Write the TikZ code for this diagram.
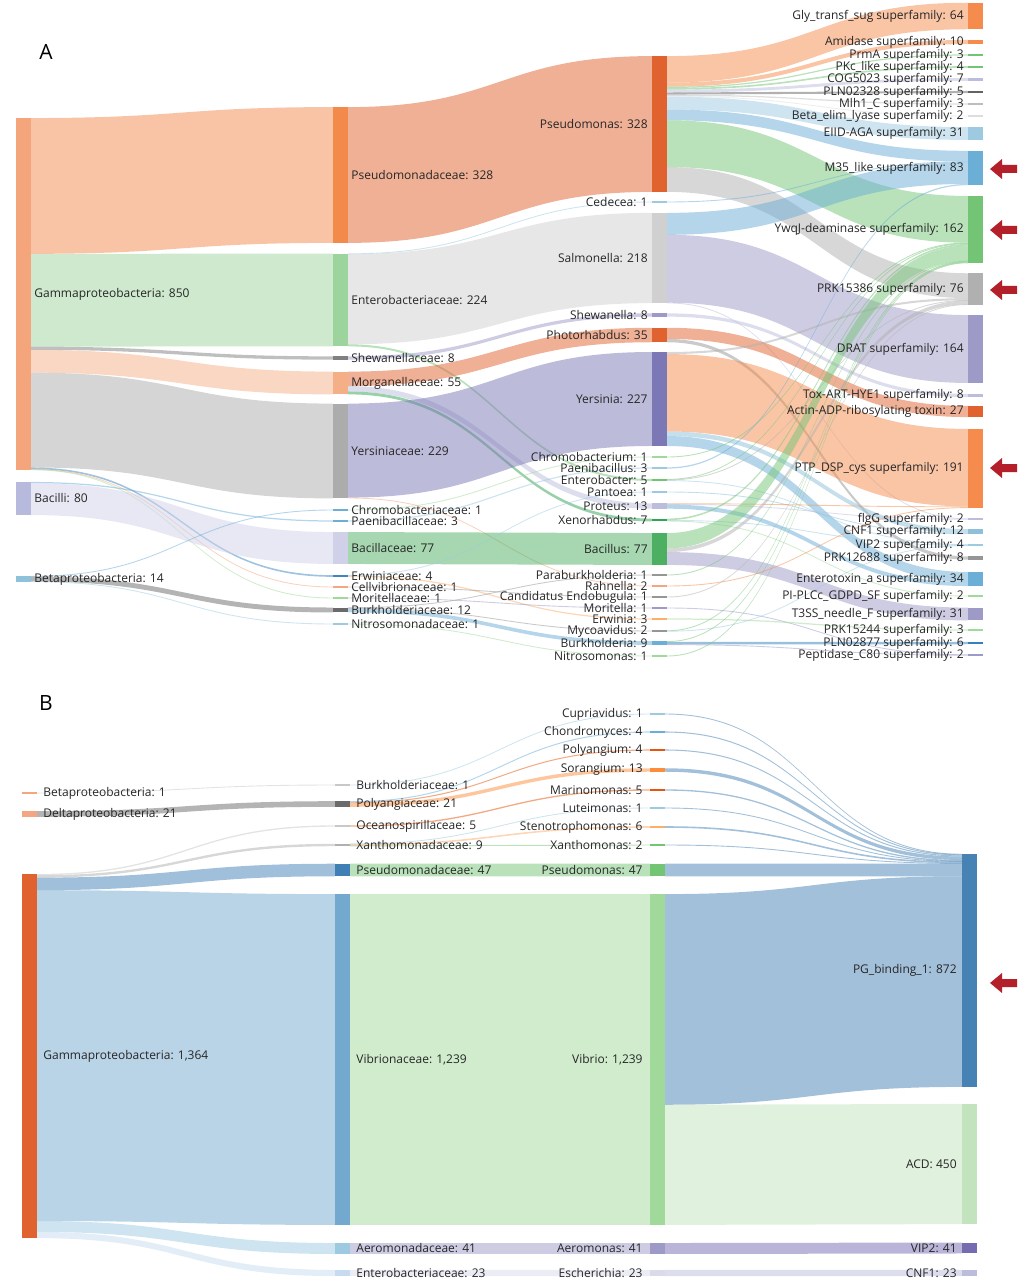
\documentclass[tikz,border=0pt]{standalone}
\usepackage{fontspec}
\newfontfamily\skfont{Open Sans}
\pgfdeclarelayer{bg}
\pgfsetlayers{bg,main}

% colours
\definecolor{txt}{HTML}{262626}
\definecolor{redarr}{HTML}{B3202A}
\definecolor{cGammaA}{HTML}{F4A57C}
\definecolor{cBacilliA}{HTML}{B8BADD}
\definecolor{cBetaA}{HTML}{8DC2DA}
\definecolor{cPsdcA}{HTML}{F28A4C}
\definecolor{cEntcA}{HTML}{9DD49D}
\definecolor{cShwcA}{HTML}{808080}
\definecolor{cMorcA}{HTML}{F5AF86}
\definecolor{cYercA}{HTML}{ACACAC}
\definecolor{cBlueL}{HTML}{9ECAE1}
\definecolor{cBlueM}{HTML}{8EC0DA}
\definecolor{cBlue}{HTML}{6BAED6}
\definecolor{cBlueD}{HTML}{3F86C0}
\definecolor{cBlueS}{HTML}{3182BD}
\definecolor{cBlueV}{HTML}{74A9CF}
\definecolor{cBlueE}{HTML}{C6DBEF}
\definecolor{cSteel}{HTML}{4682B4}
\definecolor{cSteelD}{HTML}{3F7FB5}
\definecolor{cLavL}{HTML}{D0D1E8}
\definecolor{cLav}{HTML}{9E9AC8}
\definecolor{cLavP}{HTML}{BCBDDC}
\definecolor{cLavE}{HTML}{DADAEB}
\definecolor{cPurple}{HTML}{7B78B5}
\definecolor{cVIP}{HTML}{756BB1}
\definecolor{cOrgL}{HTML}{F4A582}
\definecolor{cOrg}{HTML}{F58B4C}
\definecolor{cOrgP}{HTML}{FDAE6B}
\definecolor{cOrgS}{HTML}{FD8D3C}
\definecolor{cRed}{HTML}{E0622E}
\definecolor{cRedO}{HTML}{E6550D}
\definecolor{cGrnL}{HTML}{A1D99B}
\definecolor{cGrn}{HTML}{74C476}
\definecolor{cGrnD}{HTML}{31A354}
\definecolor{cBac}{HTML}{4DAF62}
\definecolor{cACD}{HTML}{C2E3BD}
\definecolor{cSilver}{HTML}{D0D0D0}
\definecolor{cGrayW}{HTML}{DDDDDD}
\definecolor{cGrayL}{HTML}{C8C8C8}
\definecolor{cGrayS}{HTML}{BDBDBD}
\definecolor{cGrayM}{HTML}{B0B0B0}
\definecolor{cGray}{HTML}{969696}
\definecolor{cGrayD}{HTML}{6A6A6A}
\definecolor{cGrayK}{HTML}{636363}

\tikzset{
  lab/.style={font=\skfont\fontsize{6}{7}\selectfont, text=txt, inner sep=0pt},
  panel/.style={font=\skfont\fontsize{10.5}{12}\selectfont, text=black, inner sep=0pt},
  redarrow/.style={fill=redarr}
}

\def\sfac{0.414}
\def\lgap{4}
\def\rgap{18}

% bar of a sankey column: name, x left, y centre, value, colour, label, side
\newcommand{\sbar}[7]{%
  \pgfmathsetmacro\Bh{#4*\sfac}%
  \pgfmathsetmacro\Bt{#3-\Bh/2}%
  \pgfmathsetmacro\Bd{max(\Bh,1.2)/2}%
  \expandafter\xdef\csname bx#1\endcsname{#2}%
  \expandafter\xdef\csname bo#1\endcsname{\Bt}%
  \expandafter\xdef\csname bi#1\endcsname{\Bt}%
  \expandafter\xdef\csname bc#1\endcsname{#5}%
  \fill[fill=#5] (#2,#3-\Bd) rectangle (#2+15,#3+\Bd);
  \if r#7\node[lab, anchor=west] (#1) at (#2+\rgap,#3) {#6};
  \else\node[lab, anchor=east] (#1) at (#2-\lgap,#3) {#6};\fi}

% band between two bars: source, target, value
\newcommand{\flow}[3]{%
  \expandafter\let\expandafter\Fxa\csname bx#1\endcsname
  \expandafter\let\expandafter\Fxb\csname bx#2\endcsname
  \expandafter\let\expandafter\Fya\csname bo#1\endcsname
  \expandafter\let\expandafter\Fyb\csname bi#2\endcsname
  \expandafter\let\expandafter\Fcol\csname bc#2\endcsname
  \pgfmathsetmacro\Fh{#3*\sfac}%
  \pgfmathsetmacro\Fyaa{\Fya+\Fh}%
  \pgfmathsetmacro\Fybb{\Fyb+\Fh}%
  \expandafter\xdef\csname bo#1\endcsname{\Fyaa}%
  \expandafter\xdef\csname bi#2\endcsname{\Fybb}%
  \pgfmathsetmacro\Fd{max(\Fh,0.9)/2}%
  \pgfmathsetmacro\Fca{(\Fya+\Fyaa)/2}%
  \pgfmathsetmacro\Fcb{(\Fyb+\Fybb)/2}%
  \pgfmathsetmacro\Fxs{\Fxa+15}%
  \pgfmathsetmacro\Fxm{(\Fxs+\Fxb)/2}%
  \begin{pgfonlayer}{bg}
  \fill[fill=\Fcol, opacity=.5] (\Fxs,\Fca-\Fd) .. controls (\Fxm,\Fca-\Fd) and (\Fxm,\Fcb-\Fd) .. (\Fxb,\Fcb-\Fd)
    -- (\Fxb,\Fcb+\Fd) .. controls (\Fxm,\Fcb+\Fd) and (\Fxm,\Fca+\Fd) .. (\Fxs,\Fca+\Fd) -- cycle;
  \end{pgfonlayer}}

\newcommand{\pointer}[1]{\fill[redarrow] (990,#1) -- ++(12,-10) -- ++(0,6) -- ++(15,0) -- ++(0,8) -- ++(-15,0) -- ++(0,6) -- cycle;}

\begin{document}
\begin{tikzpicture}[x=0.5pt, y=-0.5pt]
\useasboundingbox (0,0) rectangle (1027,1283);

%% panel A
\node[panel] (panelA) at (46,52) {A};
\sbar{aGamma}{16}{294}{850}{cGammaA}{Gammaproteobacteria: 850}{r}
\sbar{aBacilli}{16}{498.5}{80}{cBacilliA}{Bacilli: 80}{r}
\sbar{aBeta}{16}{579}{14}{cBetaA}{Betaproteobacteria: 14}{r}

\sbar{aPsdc}{333}{175}{328}{cPsdcA}{Pseudomonadaceae: 328}{r}
\sbar{aEntc}{333}{300}{224}{cEntcA}{Enterobacteriaceae: 224}{r}
\sbar{aShwc}{333}{358}{8}{cShwcA}{Shewanellaceae: 8}{r}
\sbar{aMorc}{333}{383}{55}{cMorcA}{Morganellaceae: 55}{r}
\sbar{aYerc}{333}{451}{229}{cYercA}{Yersiniaceae: 229}{r}
\sbar{aChrc}{333}{510}{1}{cBlue}{Chromobacteriaceae: 1}{r}
\sbar{aPaec}{333}{521}{3}{cBlue}{Paenibacillaceae: 3}{r}
\sbar{aBacc}{333}{548}{77}{cLavL}{Bacillaceae: 77}{r}
\sbar{aErwc}{333}{576}{4}{cBlueD}{Erwiniaceae: 4}{r}
\sbar{aCelc}{333}{587}{1}{cOrgL}{Cellvibrionaceae: 1}{r}
\sbar{aMoric}{333}{598}{1}{cGrnL}{Moritellaceae: 1}{r}
\sbar{aBurc}{333}{610}{12}{cGrayD}{Burkholderiaceae: 12}{r}
\sbar{aNitc}{333}{624}{1}{cBlueL}{Nitrosomonadaceae: 1}{r}

\sbar{aPsd}{652}{124}{328}{cRed}{Pseudomonas: 328}{l}
\sbar{aCed}{652}{202}{1}{cBlueL}{Cedecea: 1}{l}
\sbar{aSal}{652}{258}{218}{cSilver}{Salmonella: 218}{l}
\sbar{aShw}{652}{315}{8}{cLav}{Shewanella: 8}{l}
\sbar{aPho}{652}{335}{35}{cRed}{Photorhabdus: 35}{l}
\sbar{aYer}{652}{399}{227}{cPurple}{Yersinia: 227}{l}
\sbar{aChr}{652}{457}{1}{cGrnL}{Chromobacterium: 1}{l}
\sbar{aPae}{652}{468}{3}{cBlueL}{Paenibacillus: 3}{l}
\sbar{aEnt}{652}{480}{5}{cGrn}{Enterobacter: 5}{l}
\sbar{aPan}{652}{492}{1}{cBlueL}{Pantoea: 1}{l}
\sbar{aPro}{652}{506}{13}{cLavP}{Proteus: 13}{l}
\sbar{aXen}{652}{520}{7}{cGrnD}{Xenorhabdus: 7}{l}
\sbar{aBac}{652}{549}{77}{cBac}{Bacillus: 77}{l}
\sbar{aPbu}{652}{575}{1}{cGray}{Paraburkholderia: 1}{l}
\sbar{aRah}{652}{586}{2}{cOrgL}{Rahnella: 2}{l}
\sbar{aCan}{652}{597}{1}{cGray}{Candidatus Endobugula: 1}{l}
\sbar{aMor}{652}{608}{1}{cLav}{Moritella: 1}{l}
\sbar{aErw}{652}{619}{3}{cOrgP}{Erwinia: 3}{l}
\sbar{aMyc}{652}{631}{2}{cGray}{Mycoavidus: 2}{l}
\sbar{aBur}{652}{643}{9}{cBlue}{Burkholderia: 9}{l}
\sbar{aNit}{652}{656}{1}{cGrnL}{Nitrosomonas: 1}{l}

\sbar{aGly}{968}{16}{64}{cOrg}{Gly\_transf\_sug superfamily: 64}{l}
\sbar{aAmi}{968}{42}{10}{cOrg}{Amidase superfamily: 10}{l}
\sbar{aPrm}{968}{55}{3}{cGrn}{PrmA superfamily: 3}{l}
\sbar{aPkc}{968}{67}{4}{cGrn}{PKc\_like superfamily: 4}{l}
\sbar{aCog}{968}{79.5}{7}{cLavP}{COG5023 superfamily: 7}{l}
\sbar{aPln}{968}{92}{5}{cGrayK}{PLN02328 superfamily: 5}{l}
\sbar{aMlh}{968}{104}{3}{cGrayS}{Mlh1\_C superfamily: 3}{l}
\sbar{aBel}{968}{116}{2}{cGrayW}{Beta\_elim\_lyase superfamily: 2}{l}
\sbar{aEii}{968}{133.5}{31}{cBlueL}{EIID-AGA superfamily: 31}{l}
\sbar{aM35}{968}{168}{83}{cBlue}{M35\_like superfamily: 83}{l}
\sbar{aYwq}{968}{229.5}{162}{cGrn}{YwqJ-deaminase superfamily: 162}{l}
\sbar{aPrk}{968}{289}{76}{cGrayM}{PRK15386 superfamily: 76}{l}
\sbar{aDra}{968}{349}{164}{cLav}{DRAT superfamily: 164}{l}
\sbar{aTox}{968}{395.5}{8}{cLavP}{Tox-ART-HYE1 superfamily: 8}{l}
\sbar{aAct}{968}{411.5}{27}{cRed}{Actin-ADP-ribosylating toxin: 27}{l}
\sbar{aPtp}{968}{468.5}{191}{cOrg}{PTP\_DSP\_cys superfamily: 191}{l}
\sbar{aFlg}{968}{519}{2}{cLavP}{flgG superfamily: 2}{l}
\sbar{aCnf}{968}{531.5}{12}{cBlueM}{CNF1 superfamily: 12}{l}
\sbar{aVip}{968}{545}{4}{cBlueL}{VIP2 superfamily: 4}{l}
\sbar{aP12}{968}{558}{8}{cGray}{PRK12688 superfamily: 8}{l}
\sbar{aEtx}{968}{579}{34}{cBlue}{Enterotoxin\_a superfamily: 34}{l}
\sbar{aPip}{968}{596}{2}{cGrnL}{PI-PLCc\_GDPD\_SF superfamily: 2}{l}
\sbar{aT3s}{968}{614}{31}{cLav}{T3SS\_needle\_F superfamily: 31}{l}
\sbar{aP15}{968}{630}{3}{cGrnL}{PRK15244 superfamily: 3}{l}
\sbar{aP28}{968}{643}{6}{cBlueS}{PLN02877 superfamily: 6}{l}
\sbar{aPep}{968}{655}{2}{cLav}{Peptidase\_C80 superfamily: 2}{l}

% class -> family
\flow{aGamma}{aPsdc}{328}
\flow{aGamma}{aEntc}{224}
\flow{aGamma}{aShwc}{8}
\flow{aGamma}{aMorc}{55}
\flow{aGamma}{aYerc}{229}
\flow{aGamma}{aErwc}{4}
\flow{aGamma}{aCelc}{1}
\flow{aGamma}{aMoric}{1}
\flow{aBacilli}{aPaec}{3}
\flow{aBacilli}{aBacc}{77}
\flow{aBeta}{aChrc}{1}
\flow{aBeta}{aBurc}{12}
\flow{aBeta}{aNitc}{1}
% family -> genus
\flow{aPsdc}{aPsd}{328}
\flow{aEntc}{aCed}{1}
\flow{aEntc}{aSal}{218}
\flow{aEntc}{aEnt}{5}
\flow{aShwc}{aShw}{8}
\flow{aMorc}{aPho}{35}
\flow{aMorc}{aPro}{13}
\flow{aMorc}{aXen}{7}
\flow{aYerc}{aYer}{227}
\flow{aYerc}{aRah}{2}
\flow{aChrc}{aChr}{1}
\flow{aPaec}{aPae}{3}
\flow{aBacc}{aBac}{77}
\flow{aErwc}{aPan}{1}
\flow{aErwc}{aErw}{3}
\flow{aCelc}{aCan}{1}
\flow{aMoric}{aMor}{1}
\flow{aBurc}{aPbu}{1}
\flow{aBurc}{aMyc}{2}
\flow{aBurc}{aBur}{9}
\flow{aNitc}{aNit}{1}
% genus -> superfamily
\flow{aPsd}{aGly}{64}
\flow{aPsd}{aAmi}{10}
\flow{aPsd}{aPrm}{3}
\flow{aPsd}{aPkc}{4}
\flow{aPsd}{aCog}{7}
\flow{aPsd}{aPln}{5}
\flow{aPsd}{aMlh}{3}
\flow{aPsd}{aBel}{2}
\flow{aPsd}{aEii}{31}
\flow{aPsd}{aM35}{26}
\flow{aPsd}{aYwq}{113}
\flow{aPsd}{aPrk}{60}
\flow{aCed}{aM35}{1}
\flow{aSal}{aM35}{53}
\flow{aSal}{aDra}{164}
\flow{aSal}{aFlg}{1}
\flow{aShw}{aTox}{8}
\flow{aPho}{aAct}{27}
\flow{aPho}{aP12}{8}
\flow{aYer}{aPrk}{5}
\flow{aYer}{aPtp}{187}
\flow{aYer}{aCnf}{11}
\flow{aYer}{aEtx}{24}
\flow{aChr}{aYwq}{1}
\flow{aPae}{aM35}{3}
\flow{aEnt}{aYwq}{2}
\flow{aEnt}{aPrk}{1}
\flow{aEnt}{aVip}{2}
\flow{aPan}{aCnf}{1}
\flow{aPro}{aPtp}{2}
\flow{aPro}{aFlg}{1}
\flow{aPro}{aEtx}{10}
\flow{aXen}{aYwq}{4}
\flow{aXen}{aVip}{1}
\flow{aXen}{aPip}{2}
\flow{aBac}{aYwq}{37}
\flow{aBac}{aPrk}{9}
\flow{aBac}{aT3s}{31}
\flow{aPbu}{aYwq}{1}
\flow{aRah}{aPtp}{2}
\flow{aCan}{aPrk}{1}
\flow{aMor}{aPep}{1}
\flow{aErw}{aP15}{3}
\flow{aMyc}{aYwq}{1}
\flow{aMyc}{aVip}{1}
\flow{aBur}{aYwq}{2}
\flow{aBur}{aP28}{6}
\flow{aBur}{aPep}{1}
\flow{aNit}{aYwq}{1}

\pointer{169}
\pointer{230}
\pointer{290}
\pointer{468}

%% panel B
\def\sfac{0.267}
\def\lgap{7}
\def\rgap{21}
\node[panel] (panelB) at (46,703) {B};
\sbar{bBeta}{22}{793}{1}{cOrgL}{Betaproteobacteria: 1}{r}
\sbar{bDelta}{22}{814}{21}{cOrgL}{Deltaproteobacteria: 21}{r}
\sbar{bGamma}{22}{1056}{1364}{cRed}{Gammaproteobacteria: 1,364}{r}

\sbar{bBurc}{335}{785}{1}{cGrayL}{Burkholderiaceae: 1}{r}
\sbar{bPolc}{335}{804}{21}{cGrayD}{Polyangiaceae: 21}{r}
\sbar{bOcec}{335}{826}{5}{cGrayL}{Oceanospirillaceae: 5}{r}
\sbar{bXanc}{335}{845}{9}{cGrayM}{Xanthomonadaceae: 9}{r}
\sbar{bPsdc}{335}{870}{47}{cSteelD}{Pseudomonadaceae: 47}{r}
\sbar{bVibc}{335}{1059.5}{1239}{cBlueV}{Vibrionaceae: 1,239}{r}
\sbar{bAerc}{335}{1248.5}{41}{cBlueL}{Aeromonadaceae: 41}{r}
\sbar{bEntc}{335}{1273}{23}{cBlueE}{Enterobacteriaceae: 23}{r}

\sbar{bCup}{650}{714}{1}{cBlueL}{Cupriavidus: 1}{l}
\sbar{bCho}{650}{732}{4}{cBlue}{Chondromyces: 4}{l}
\sbar{bPol}{650}{750}{4}{cRedO}{Polyangium: 4}{l}
\sbar{bSor}{650}{770}{13}{cOrgS}{Sorangium: 13}{l}
\sbar{bMar}{650}{790}{5}{cRedO}{Marinomonas: 5}{l}
\sbar{bLut}{650}{808}{1}{cBlueL}{Luteimonas: 1}{l}
\sbar{bSte}{650}{827}{6}{cOrgP}{Stenotrophomonas: 6}{l}
\sbar{bXan}{650}{845}{2}{cGrn}{Xanthomonas: 2}{l}
\sbar{bPsd}{650}{870}{47}{cGrn}{Pseudomonas: 47}{l}
\sbar{bVib}{650}{1059.5}{1239}{cGrnL}{Vibrio: 1,239}{l}
\sbar{bAer}{650}{1248.5}{41}{cLav}{Aeromonas: 41}{l}
\sbar{bEsc}{650}{1273}{23}{cLavE}{Escherichia: 23}{l}

\def\lgap{5}
\sbar{bPgb}{962}{970.5}{872}{cSteel}{PG\_binding\_1: 872}{l}
\sbar{bAcd}{962}{1164}{450}{cACD}{ACD: 450}{l}
\sbar{bVip}{962}{1248}{41}{cVIP}{VIP2: 41}{l}
\sbar{bCnf}{962}{1273}{23}{cLavP}{CNF1: 23}{l}

\flow{bBeta}{bBurc}{1}
\flow{bDelta}{bPolc}{21}
\flow{bGamma}{bOcec}{5}
\flow{bGamma}{bXanc}{9}
\flow{bGamma}{bPsdc}{47}
\flow{bGamma}{bVibc}{1239}
\flow{bGamma}{bAerc}{41}
\flow{bGamma}{bEntc}{23}
\flow{bBurc}{bCup}{1}
\flow{bPolc}{bCho}{4}
\flow{bPolc}{bPol}{4}
\flow{bPolc}{bSor}{13}
\flow{bOcec}{bMar}{5}
\flow{bXanc}{bLut}{1}
\flow{bXanc}{bSte}{6}
\flow{bXanc}{bXan}{2}
\flow{bPsdc}{bPsd}{47}
\flow{bVibc}{bVib}{1239}
\flow{bAerc}{bAer}{41}
\flow{bEntc}{bEsc}{23}
\flow{bCup}{bPgb}{1}
\flow{bCho}{bPgb}{4}
\flow{bPol}{bPgb}{4}
\flow{bSor}{bPgb}{13}
\flow{bMar}{bPgb}{5}
\flow{bLut}{bPgb}{1}
\flow{bSte}{bPgb}{6}
\flow{bXan}{bPgb}{2}
\flow{bPsd}{bPgb}{47}
\flow{bVib}{bPgb}{789}
\flow{bVib}{bAcd}{450}
\flow{bAer}{bVip}{41}
\flow{bEsc}{bCnf}{23}

\pointer{983}
\end{tikzpicture}
\end{document}
